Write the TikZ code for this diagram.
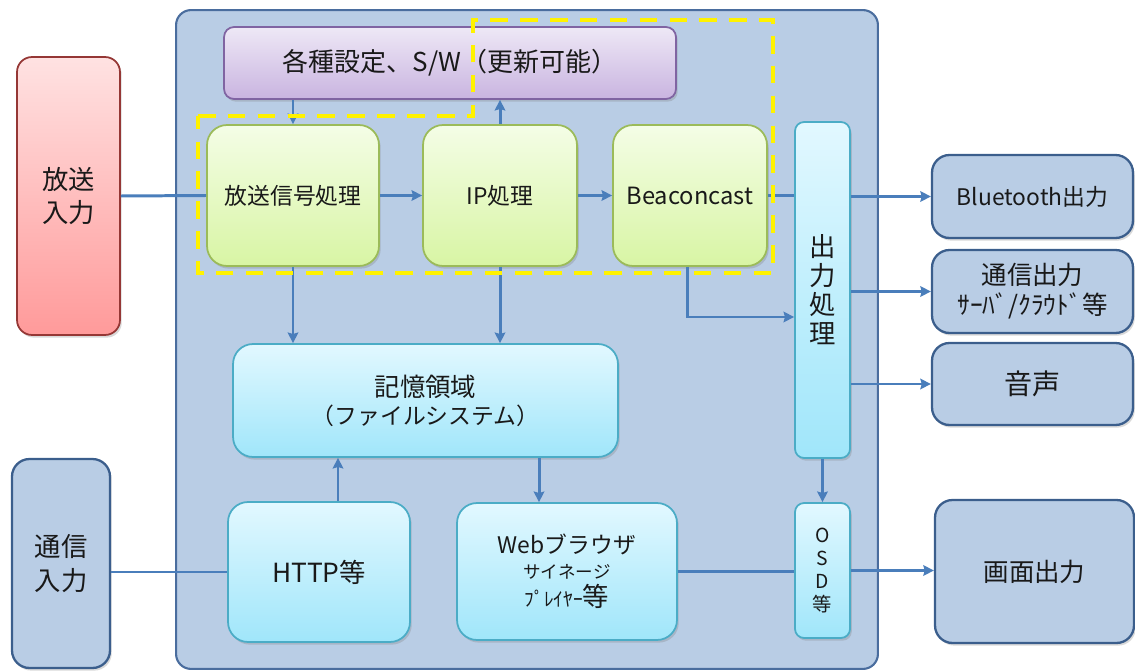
\documentclass[tikz,border=0pt]{standalone}
\usepackage{fontspec}
\setmainfont{Noto Sans CJK JP}
\usetikzlibrary{shadows,arrows.meta}

\definecolor{panelfill}{HTML}{B9CDE5}
\definecolor{paneledge}{HTML}{4A6D9E}
\definecolor{outedge}{HTML}{3B5E8C}
\definecolor{flowblue}{HTML}{4A7EBB}
\definecolor{redtop}{HTML}{FFE2E2}
\definecolor{redbot}{HTML}{FF9A9A}
\definecolor{rededge}{HTML}{953735}
\definecolor{greentop}{HTML}{F4FDE6}
\definecolor{greenbot}{HTML}{D8F5A4}
\definecolor{greenedge}{HTML}{9BBB59}
\definecolor{cyantop}{HTML}{E2F8FF}
\definecolor{cyanbot}{HTML}{A0E6FA}
\definecolor{cyanedge}{HTML}{4BACC6}
\definecolor{purptop}{HTML}{EEE8F6}
\definecolor{purpbot}{HTML}{C9B4E0}
\definecolor{purpedge}{HTML}{8064A2}

\begin{document}
\begin{tikzpicture}[x=0.02cm,y=-0.02cm,
  font=\fontsize{13}{16}\selectfont,
  every node/.style={inner sep=2pt,align=center,text=black!90},
  shade/.style={drop shadow={shadow xshift=1pt,shadow yshift=-1.5pt,opacity=0.3}},
  panel/.style={draw=paneledge,line width=1.2pt,fill=panelfill,rounded corners=0.3cm},
  outbox/.style={draw=outedge,line width=1.3pt,fill=panelfill,rounded corners=0.35cm,shade},
  inbox/.style={draw=rededge,line width=1pt,top color=redtop,bottom color=redbot,rounded corners=0.3cm,shade},
  procbox/.style={draw=greenedge,line width=1pt,top color=greentop,bottom color=greenbot,rounded corners=0.4cm,shade},
  databox/.style={draw=cyanedge,line width=1pt,top color=cyantop,bottom color=cyanbot,rounded corners=0.4cm,shade},
  barbox/.style={draw=cyanedge,line width=1pt,top color=cyantop,bottom color=cyanbot,rounded corners=0.18cm,shade},
  confbox/.style={draw=purpedge,line width=1pt,top color=purptop,bottom color=purpbot,rounded corners=0.2cm,shade},
  flow/.style={draw=flowblue,line width=1.7pt,-{Stealth[length=6pt,width=6pt,inset=0.8pt]}},
  wire/.style={draw=flowblue,line width=1.7pt},
  hilite/.style={draw=yellow,line width=2.2pt,dash pattern=on 10pt off 7pt}]

  \useasboundingbox (0,0) rectangle (1135,672);

  % receiver body
  \node[panel,minimum width=14.04cm,minimum height=13.18cm] (body) at (527,339.5) {};

  % inputs
  \node[inbox,minimum width=2.06cm,minimum height=5.56cm,font=\fontsize{15}{19}\selectfont] (bcin) at (68.5,196) {放送\\入力};
  \node[outbox,minimum width=1.96cm,minimum height=4.18cm,font=\fontsize{15}{19}\selectfont] (comin) at (61,563.5) {通信\\入力};

  % processing blocks
  \node[confbox,minimum width=9.04cm,minimum height=1.44cm,font=\fontsize{14.8}{17}\selectfont] (conf) at (450,63) {各種設定、S/W（更新可能）};
  \node[procbox,minimum width=3.44cm,minimum height=2.82cm] (sig) at (293,195.5) {放送信号処理};
  \node[procbox,minimum width=3.08cm,minimum height=2.82cm] (ip) at (500,195.5) {IP処理};
  \node[procbox,minimum width=3.08cm,minimum height=2.82cm,font=\fontsize{13.5}{16}\selectfont] (beacon) at (690,195.5) {Beaconcast};
  \node[barbox,minimum width=1.1cm,minimum height=6.72cm,font=\fontsize{15}{16.5}\selectfont] (outp) at (822.5,290) {出\\力\\処\\理};
  \node[barbox,minimum width=1.1cm,minimum height=2.7cm,font=\fontsize{11}{13}\selectfont] (osd) at (822.5,570.5) {O\\S\\D\\等};
  \node[databox,minimum width=7.7cm,minimum height=2.26cm] (mem) at (425.5,400.5)
    {{\fontsize{14.5}{18}\selectfont 記憶領域}\\（ファイルシステム）};
  \node[databox,minimum width=3.64cm,minimum height=2.8cm,font=\fontsize{15}{17}\selectfont] (http) at (319,572) {HTTP等};
  \node[databox,minimum width=4.4cm,minimum height=2.74cm] (web) at (567,571.5)
    {Webブラウザ\\[-2pt]{\fontsize{10}{13}\selectfont サイネージ}\\{\fontsize{11}{13}\selectfont ﾌﾟﾚｲﾔｰ}{\fontsize{15}{16}\selectfont 等}};

  % outputs
  \node[outbox,minimum width=4.02cm,minimum height=1.66cm,font=\fontsize{13}{15}\selectfont] (bt) at (1032.5,196.5) {Bluetooth出力};
  \node[outbox,minimum width=4.02cm,minimum height=1.66cm,font=\fontsize{14.5}{17}\selectfont] (comout) at (1032.5,291.5) {通信出力\\ｻｰﾊﾞ/ｸﾗｳﾄﾞ等};
  \node[outbox,minimum width=4.02cm,minimum height=1.64cm,font=\fontsize{16}{18}\selectfont] (audio) at (1032.5,384) {音声};
  \node[outbox,minimum width=3.98cm,minimum height=2.86cm,font=\fontsize{14.5}{17}\selectfont] (screen) at (1034.5,571.5) {画面出力};

  \path[every edge/.style={flow}]
    (sig.east) edge (ip.west)
    (ip.east) edge (beacon.west)
    (conf.south -| sig.north) edge (sig.north)
    (ip.north) edge (ip.north |- conf.south)
    (sig.south) edge (sig.south |- mem.north)
    (ip.south) edge (ip.south |- mem.north)
    ([xshift=0.38cm]http.north) edge ([xshift=0.38cm]http.north |- mem.south)
    ([xshift=-0.56cm]web.north |- mem.south) edge ([xshift=-0.56cm]web.north)
    (bt.west -| outp.east) edge (bt.west)
    (comout.west -| outp.east) edge (comout.west)
    (audio.west -| outp.east) edge (audio.west)
    (outp.south) edge (osd.north)
    (osd.east) edge (osd.east -| screen.west);
  \path[every edge/.style={wire}]
    (bcin.east) edge (sig.west)
    (beacon.east) edge (beacon.east -| outp.west)
    (http.west -| comin.east) edge (http.west)
    (web.east) edge (web.east -| osd.west);
  \draw[flow] ([xshift=-0.06cm]beacon.south) |- ([yshift=-0.54cm]outp.west);

  % Beaconcast scope
  \draw[hilite] (198,116) -- (473,116) -- (473,20) -- (773,20) -- (773,273) -- (198,273) -- cycle;
\end{tikzpicture}
\end{document}
